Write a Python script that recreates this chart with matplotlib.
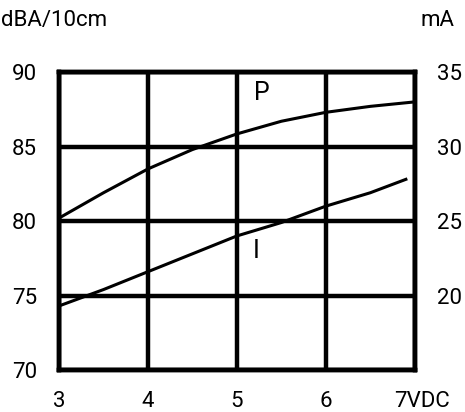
import matplotlib.pyplot as plt
import matplotlib.transforms as mtransforms
import numpy as np

plt.rcParams["font.family"] = ["Roboto", "DejaVu Sans"]

volts = [3, 3.5, 4, 4.5, 5, 5.5, 6, 6.5, 7]
sound_dba = [80.2, 81.9, 83.5, 84.8, 85.85, 86.7, 87.3, 87.7, 88.0]

volts_i = [3, 3.5, 4, 4.5, 5, 5.5, 6, 6.5, 6.9]
current_ma = [19.3, 20.4, 21.6, 22.8, 24.0, 24.9, 26.0, 26.9, 27.8]

x_ticks = [3, 4, 5, 6, 7]
x_labels = ["3", "4", "5", "6", "7VDC"]
dba_ticks = [70, 75, 80, 85, 90]
ma_ticks = [20, 25, 30, 35]

fig = plt.figure(figsize=(4.65, 4.12), dpi=100)
ax = fig.add_axes([0.127, 0.102, 0.765, 0.723])
ax2 = ax.twinx()

ax.plot(volts, sound_dba, color="black", linewidth=2.2)
ax2.plot(volts_i, current_ma, color="black", linewidth=2.2)

ax.set_xlim(3, 7)
ax.set_ylim(70, 90)
ax2.set_ylim(15, 35)

ax.set_xticks(x_ticks)
ax.set_xticklabels(x_labels)
ax.set_yticks(dba_ticks)
ax2.set_yticks(ma_ticks)

ax.grid(True, color="black", linewidth=3.2)
ax.set_axisbelow(True)
for a in (ax, ax2):
    for s in a.spines.values():
        s.set_linewidth(3.2)
    a.tick_params(length=0, labelsize=16, color="black")
ax.tick_params(axis="x", pad=15)
ax.tick_params(axis="y", pad=16)
ax2.tick_params(axis="y", pad=16)

# the "7VDC" label sits a little right of its gridline
lab = ax.get_xticklabels()[-1]
lab.set_transform(lab.get_transform() + mtransforms.ScaledTranslation(0.07, 0, fig.dpi_scale_trans))

ax.text(5.28, 88.6, "P", fontsize=18, ha="center", va="center")
ax.text(5.22, 78.0, "I", fontsize=18, ha="center", va="center")

fig.text(0.003, 0.95, "dBA/10cm", fontsize=16, ha="left", va="center")
fig.text(0.978, 0.95, "mA", fontsize=16, ha="right", va="center")

fig.savefig("out.png", dpi=100)
